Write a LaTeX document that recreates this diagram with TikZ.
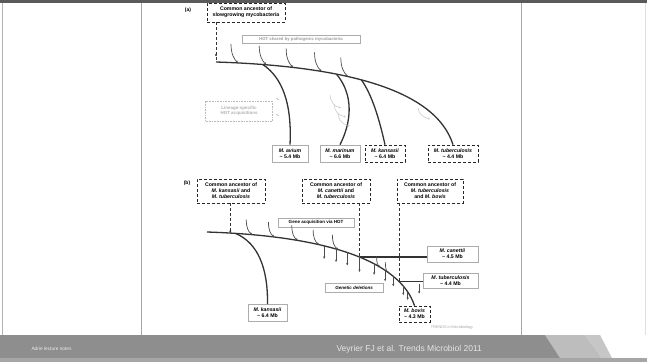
\documentclass[tikz,border=0pt]{standalone}
\usepackage{fontspec}
\setmainfont{Liberation Sans}
\usetikzlibrary{arrows.meta,calc}
\definecolor{footgray}{HTML}{8E8E8E}
\definecolor{footlight}{HTML}{BDBDBD}
\definecolor{topbar}{HTML}{5A5A5A}
\begin{document}
\begin{tikzpicture}[x=1pt,y=-1pt,
 abox/.style={draw=black!85, densely dashed, line width=0.7pt, fill=white, align=center, inner sep=0pt, font=\fontsize{5.2}{6}\selectfont\bfseries},
 gbox/.style={draw=gray!65, line width=0.7pt, fill=white, align=center, inner sep=0pt, font=\fontsize{5.2}{6}\selectfont\bfseries},
 fbox/.style={draw=gray!55, densely dotted, line width=0.6pt, fill=white, align=center, inner sep=0pt, text=gray!60, font=\fontsize{4.5}{5.5}\selectfont\bfseries},
 trunk/.style={line width=1.3pt, draw=black!80},
 hookarrow/.style={line width=0.7pt, draw=black!70, -{Stealth[length=2.5pt,width=2.2pt]}},
 faintarrow/.style={line width=0.6pt, draw=gray!40, -{Stealth[length=2.2pt,width=2pt]}},
 delarrow/.style={line width=0.7pt, draw=black!70, -{Stealth[length=2.5pt,width=2.2pt]}},
 ancline/.style={densely dashed, line width=0.8pt, draw=black!80},
]
\useasboundingbox (0,0) rectangle (647,362);
\fill[white] (0,0) rectangle (647,362);
% slide frame
\fill[topbar] (0,0) rectangle (647,3);
\draw[gray!70, line width=0.6pt] (141,3) -- (141,335);
\draw[gray!70, line width=0.6pt] (521,3) -- (521,335);
\draw[gray!25, line width=0.5pt] (645,3) -- (645,335);
\draw[gray!60, line width=0.5pt] (2,3) -- (2,358);
% footer
\fill[footgray] (0,335) rectangle (560,358);
\fill[footlight] (545,335) -- (585,335) -- (602,358) -- (560,358) -- cycle;
\fill[gray!45] (585,335) -- (600,335) -- (612,358) -- (602,358) -- cycle;
\fill[gray!70] (0,358) rectangle (647,362);
\node[text=white!85!gray, font=\fontsize{4.8}{5}\selectfont, anchor=west] (footl) at (28,349) {Adrie lecture notes};
\node[text=white!80!gray, font=\fontsize{8.5}{9}\selectfont, anchor=west] (footr) at (333,349) {Veyrier FJ et al. Trends Microbiol 2011};

% ================= panel (a)
\node[font=\fontsize{5}{6}\selectfont\bfseries] (la) at (188,10) {(a)};
\node[abox, minimum width=78pt, minimum height=19pt] (topA) at (246,12.5) {Common ancestor of\\slowgrowing mycobacteria};
\node[gbox, minimum width=118pt, minimum height=8pt, text=gray!75, font=\fontsize{4.3}{5}\selectfont\bfseries] (hgtA) at (301,39) {HGT shared by pathogenic mycobacteria};
\node[fbox, minimum width=67pt, minimum height=20pt] (specA) at (239,111) {Lineage-specific\\HGT acquisitions};

\node[gbox, minimum width=36pt, minimum height=17pt] (avium) at (290,153.5) {\textit{M. avium}\\\textasciitilde\ 5.4 Mb};
\node[gbox, minimum width=40pt, minimum height=17pt] (marinum) at (340,153.5) {\textit{M. marinum}\\\textasciitilde\ 6.6 Mb};
\node[abox, minimum width=40pt, minimum height=17pt] (kansA) at (385,153.5) {\textit{M. kansasii}\\\textasciitilde\ 6.4 Mb};
\node[abox, minimum width=50pt, minimum height=17pt] (tbA) at (453,153.5) {\textit{M. tuberculosis}\\\textasciitilde\ 4.4 Mb};

\coordinate (rootA) at (216,62);
\draw[trunk] (rootA) .. controls (340,66) and (435,88) .. (tbA.north)
  coordinate[pos=0.13] (bav) coordinate[pos=0.36] (bma) coordinate[pos=0.45] (bka)
  coordinate[pos=0.06] (ha1) coordinate[pos=0.14] (ha2) coordinate[pos=0.22] (ha3)
  coordinate[pos=0.31] (ha4) coordinate[pos=0.40] (ha5);
\draw[trunk] (bav) .. controls (283,78) and (292,105) .. (avium.north);
\draw[trunk] (bma) .. controls (350,90) and (355,115) .. (marinum.north);
\draw[trunk] (bka) .. controls (372,95) and (379,118) .. (kansA.north);
\draw[ancline] (topA.south -| rootA) -- (rootA);
\fill[black!80] ($(rootA)+(0,-7)$) circle (1.2pt);
\foreach \h in {ha1,ha2,ha3,ha4,ha5}{
  \draw[hookarrow] ($(\h)+(-7,-19)$) .. controls ($(\h)+(-7,-9)$) and ($(\h)+(-4,-4)$) .. (\h);
}
% faint lineage-specific arrows
\draw[faintarrow] (330,95) .. controls (331,103) and (334,106) .. (341,108);
\draw[faintarrow] (334,104) .. controls (335,112) and (338,115) .. (346,117);
\draw[faintarrow] (338,113) .. controls (339,121) and (342,124) .. (350,126);
\draw[faintarrow] (418,108) .. controls (419,114) and (422,117) .. (430,119);
\draw[faintarrow] (276,98) -- (279,100);
\draw[faintarrow] (276,114) -- (279,116);

% ================= panel (b)
\node[font=\fontsize{5}{6}\selectfont\bfseries] (lb) at (187,183) {(b)};
\node[abox, minimum width=68pt, minimum height=24pt] (anc1) at (231,191) {Common ancestor of\\\textit{M. kansasii} and\\\textit{M. tuberculosis}};
\node[abox, minimum width=68pt, minimum height=24pt] (anc2) at (336,191) {Common ancestor of\\\textit{M. canettii} and\\\textit{M. tuberculosis}};
\node[abox, minimum width=66pt, minimum height=24pt] (anc3) at (430,191) {Common ancestor of\\\textit{M. tuberculosis}\\and \textit{M. bovis}};
\node[gbox, minimum width=76pt, minimum height=9pt, font=\fontsize{4.5}{5}\selectfont\bfseries] (geneacq) at (316,222.5) {Gene acquisition via HGT};

\node[gbox, minimum width=51pt, minimum height=16pt] (canettii) at (452.5,254) {\textit{M. canettii}\\\textasciitilde\ 4.5 Mb};
\node[gbox, minimum width=55pt, minimum height=15pt] (tbB) at (450.5,281) {\textit{M. tuberculosis}\\\textasciitilde\ 4.4 Mb};
\node[gbox, minimum width=58pt, minimum height=9pt, font=\fontsize{4.5}{5}\selectfont\bfseries\itshape] (dels) at (354,288) {Genetic deletions};
\node[gbox, minimum width=39pt, minimum height=17pt] (kansB) at (267.5,313) {\textit{M. kansasii}\\\textasciitilde\ 6.4 Mb};
\node[abox, minimum width=31pt, minimum height=16pt] (bovis) at (414.5,314) {\textit{M. bovis}\\\textasciitilde\ 4.3 Mb};
\node[text=gray!70, font=\fontsize{3.8}{4}\selectfont] (trends) at (452,328) {TRENDS in Microbiology};

\coordinate (rootB) at (207,232);
\draw[trunk] (rootB) .. controls (330,236) and (400,262) .. (bovis.north)
  coordinate[pos=0.08] (bks) coordinate[pos=0.065] (jc1) coordinate[pos=0.54] (jc2) coordinate[pos=0.8] (jc3)
  coordinate[pos=0.13] (hb1) coordinate[pos=0.2] (hb2) coordinate[pos=0.28] (hb3)
  coordinate[pos=0.36] (hb4) coordinate[pos=0.44] (hb5) coordinate[pos=0.66] (hb6) coordinate[pos=0.72] (hb7)
  coordinate[pos=0.38] (d1) coordinate[pos=0.43] (d2) coordinate[pos=0.48] (d3) coordinate[pos=0.54] (d4)
  coordinate[pos=0.62] (d5) coordinate[pos=0.69] (d6) coordinate[pos=0.75] (d7) coordinate[pos=0.84] (d8) coordinate[pos=0.89] (d9);
\draw[trunk] (bks) .. controls (258,243) and (268,268) .. (kansB.north);
\draw[trunk] (jc2) -- (canettii.west |- jc2);
\draw[trunk] (jc3) -- (tbB.west |- jc3);
\draw[ancline, -{Stealth[length=2.5pt,width=2.2pt]}] (anc1.south -| jc1) -- (jc1);
\draw[ancline] (anc2.south -| jc2) -- (jc2);
\draw[ancline] (anc3.south -| jc3) -- (jc3);
\foreach \h in {hb1,hb2,hb3,hb4,hb5}{
  \draw[hookarrow] ($(\h)+(-6,-15)$) .. controls ($(\h)+(-6,-7)$) and ($(\h)+(-4,-3)$) .. (\h);
}
\foreach \h in {hb6,hb7}{
  \draw[hookarrow] ($(\h)+(-4,-11)$) .. controls ($(\h)+(-4,-5)$) and ($(\h)+(-3,-2)$) .. (\h);
}
\foreach \d/\l in {d1/13,d2/13,d3/13,d4/15,d5/11,d6/11,d7/10,d8/9,d9/8}{
  \draw[delarrow] (\d) -- ++(0,\l);
}
\draw[delarrow] ($(jc3)+(20,2)$) -- ++(0,10);
\end{tikzpicture}
\end{document}
